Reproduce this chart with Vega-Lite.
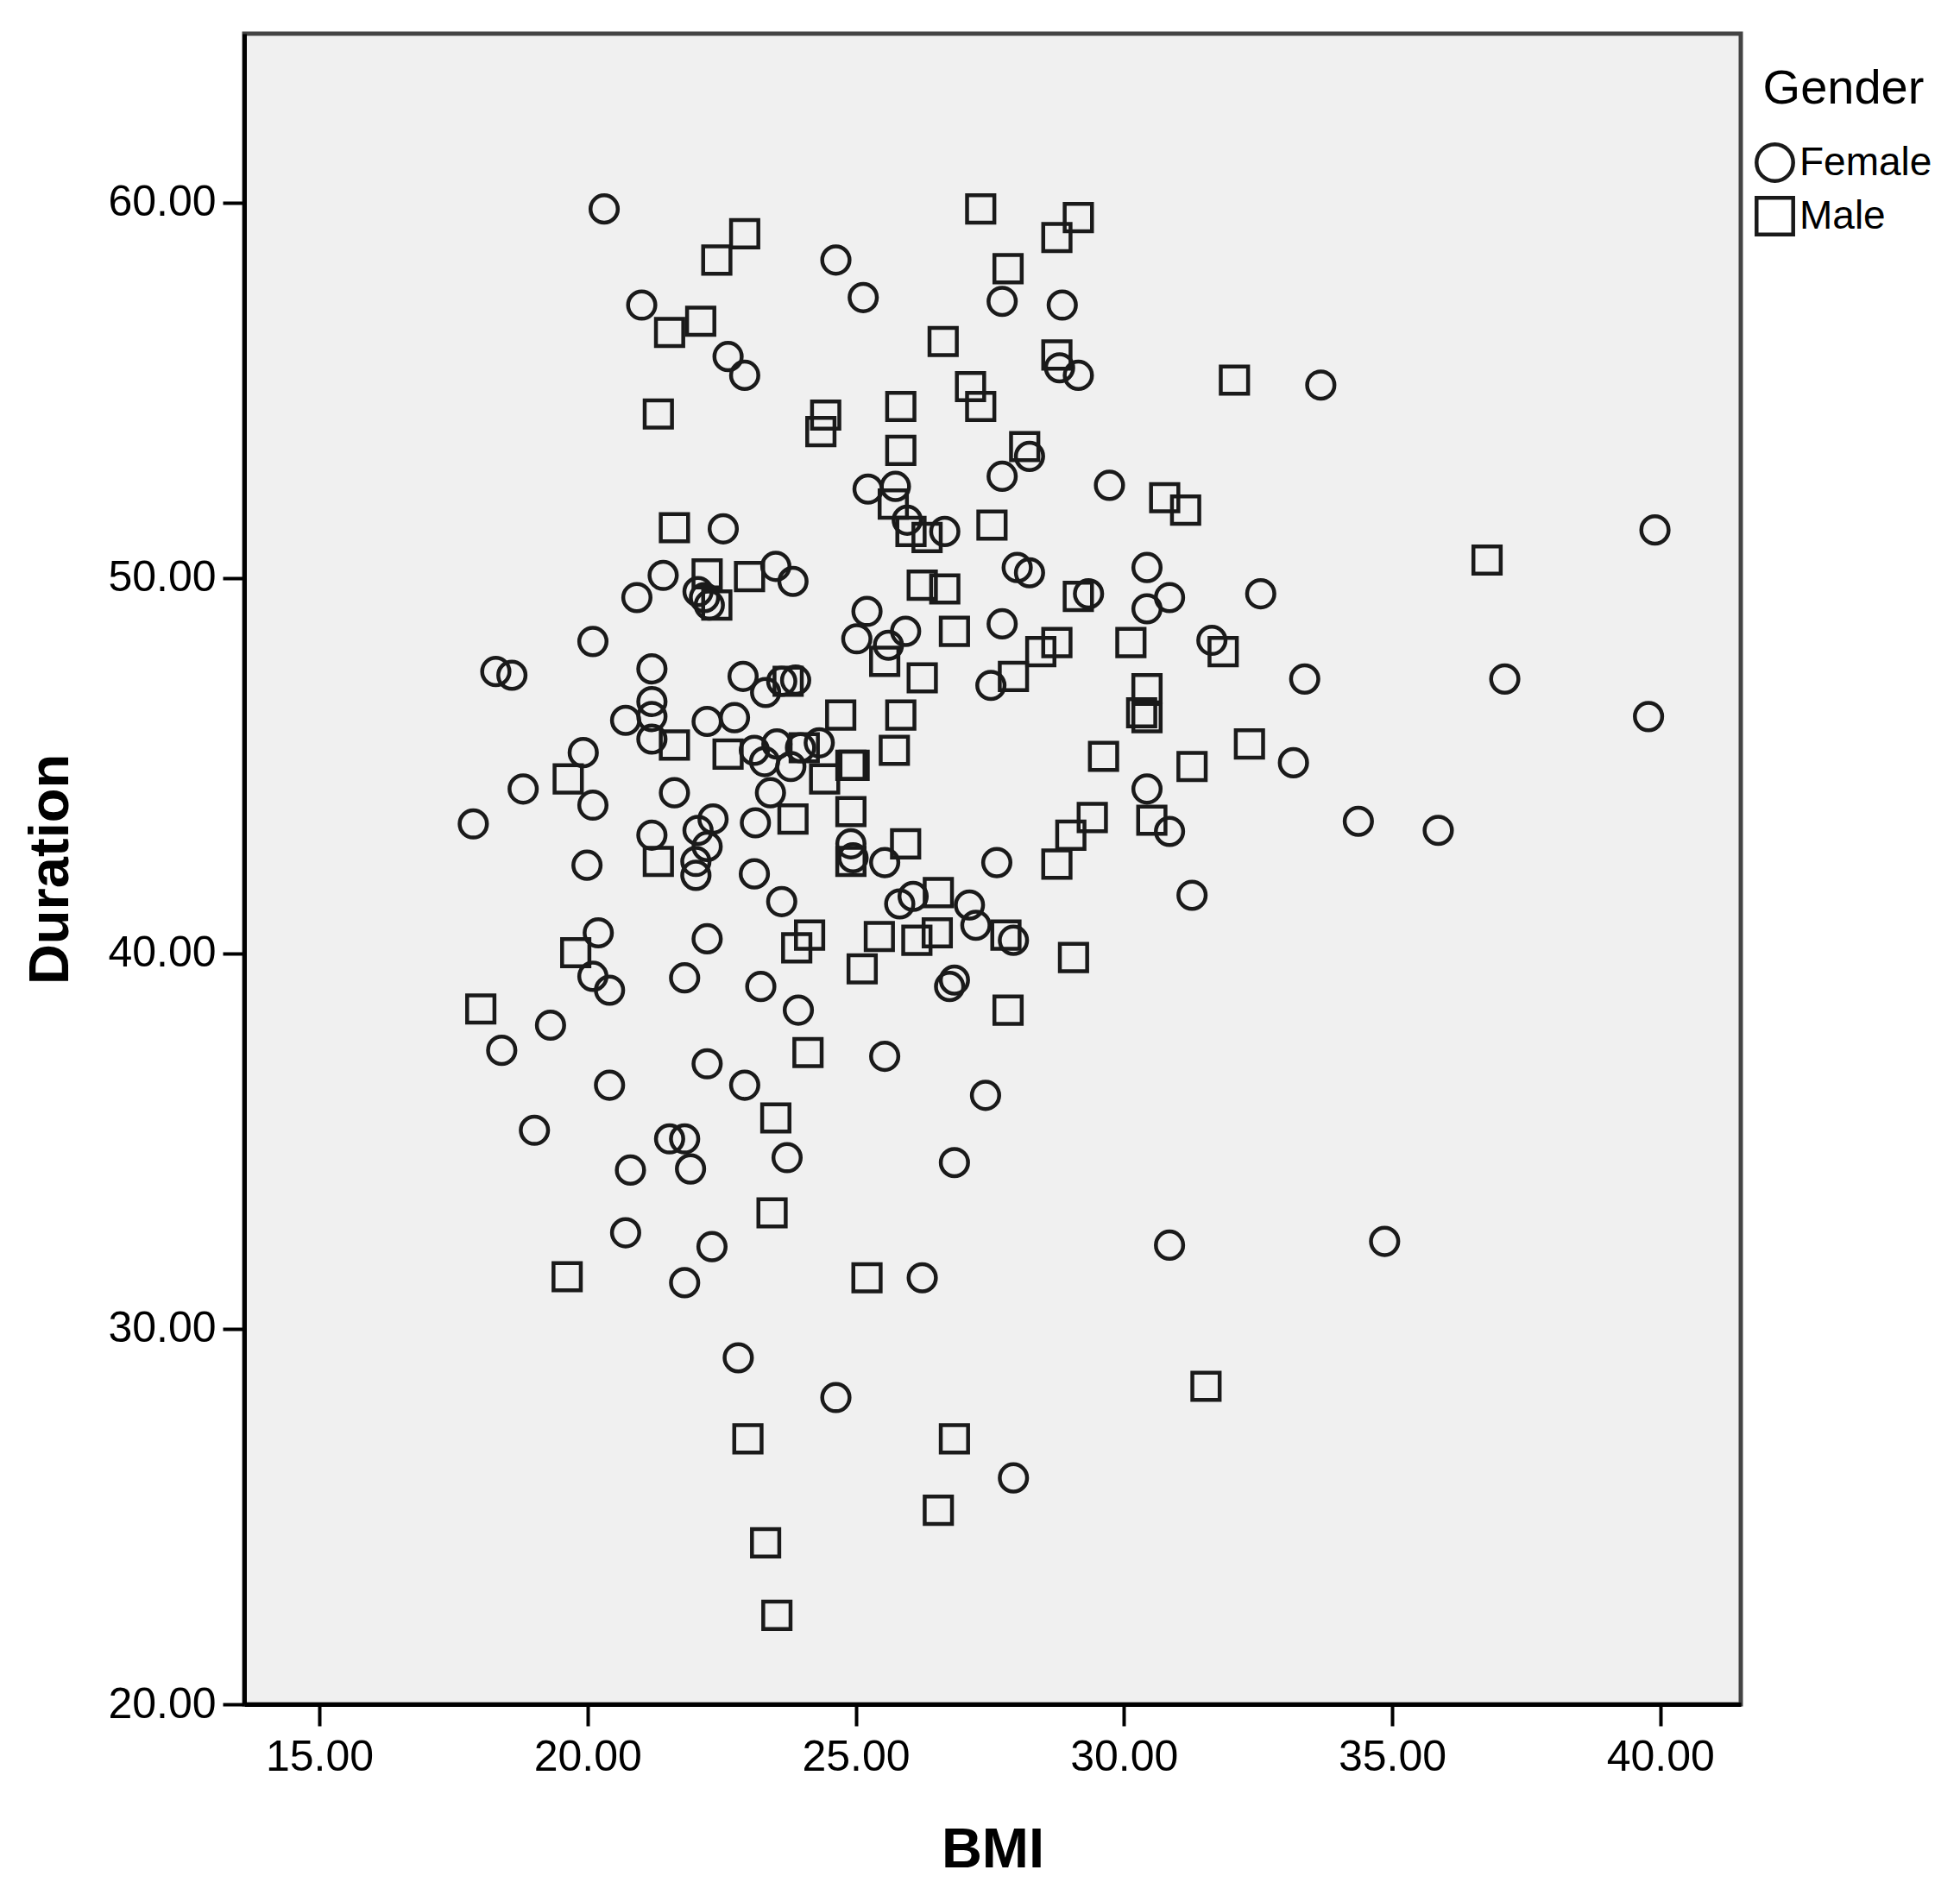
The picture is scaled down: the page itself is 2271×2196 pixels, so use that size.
{
  "$schema": "https://vega.github.io/schema/vega-lite/v6.json",
  "width": 1734,
  "height": 1936,
  "autosize": {"type": "none"},
  "padding": {"left": 283, "top": 39, "right": 254, "bottom": 221},
  "background": "white",
  "config": {
    "font": "Liberation Sans",
    "view": {"fill": "#f0f0f0", "stroke": "#444444", "strokeWidth": 5},
    "axis": {
      "grid": false,
      "domainColor": "black",
      "domainWidth": 5,
      "tickColor": "black",
      "tickWidth": 4,
      "tickSize": 25,
      "labelFontSize": 50,
      "labelColor": "black",
      "labelPadding": 8,
      "titleFontSize": 65,
      "titleFontWeight": "bold",
      "titleColor": "black"
    }
  },
  "data": {
    "values": [
      {"BMI": 20.31, "Duration": 59.83, "Gender": "Female"},
      {"BMI": 24.63, "Duration": 58.47, "Gender": "Female"},
      {"BMI": 25.14, "Duration": 57.47, "Gender": "Female"},
      {"BMI": 21.01, "Duration": 57.27, "Gender": "Female"},
      {"BMI": 27.73, "Duration": 57.37, "Gender": "Female"},
      {"BMI": 28.85, "Duration": 57.27, "Gender": "Female"},
      {"BMI": 22.62, "Duration": 55.9, "Gender": "Female"},
      {"BMI": 28.8, "Duration": 55.6, "Gender": "Female"},
      {"BMI": 22.93, "Duration": 55.4, "Gender": "Female"},
      {"BMI": 29.15, "Duration": 55.4, "Gender": "Female"},
      {"BMI": 33.67, "Duration": 55.14, "Gender": "Female"},
      {"BMI": 28.24, "Duration": 53.24, "Gender": "Female"},
      {"BMI": 27.73, "Duration": 52.71, "Gender": "Female"},
      {"BMI": 29.73, "Duration": 52.47, "Gender": "Female"},
      {"BMI": 25.23, "Duration": 52.37, "Gender": "Female"},
      {"BMI": 25.74, "Duration": 52.44, "Gender": "Female"},
      {"BMI": 25.96, "Duration": 51.54, "Gender": "Female"},
      {"BMI": 26.66, "Duration": 51.24, "Gender": "Female"},
      {"BMI": 22.53, "Duration": 51.31, "Gender": "Female"},
      {"BMI": 39.9, "Duration": 51.28, "Gender": "Female"},
      {"BMI": 23.51, "Duration": 50.31, "Gender": "Female"},
      {"BMI": 21.41, "Duration": 50.07, "Gender": "Female"},
      {"BMI": 23.83, "Duration": 49.91, "Gender": "Female"},
      {"BMI": 28.01, "Duration": 50.28, "Gender": "Female"},
      {"BMI": 28.24, "Duration": 50.14, "Gender": "Female"},
      {"BMI": 30.43, "Duration": 50.28, "Gender": "Female"},
      {"BMI": 22.06, "Duration": 49.64, "Gender": "Female"},
      {"BMI": 22.18, "Duration": 49.48, "Gender": "Female"},
      {"BMI": 22.27, "Duration": 49.28, "Gender": "Female"},
      {"BMI": 20.92, "Duration": 49.48, "Gender": "Female"},
      {"BMI": 29.34, "Duration": 49.58, "Gender": "Female"},
      {"BMI": 30.85, "Duration": 49.48, "Gender": "Female"},
      {"BMI": 32.55, "Duration": 49.58, "Gender": "Female"},
      {"BMI": 30.43, "Duration": 49.18, "Gender": "Female"},
      {"BMI": 25.21, "Duration": 49.11, "Gender": "Female"},
      {"BMI": 25.93, "Duration": 48.58, "Gender": "Female"},
      {"BMI": 27.73, "Duration": 48.78, "Gender": "Female"},
      {"BMI": 20.1, "Duration": 48.31, "Gender": "Female"},
      {"BMI": 25.02, "Duration": 48.38, "Gender": "Female"},
      {"BMI": 25.61, "Duration": 48.21, "Gender": "Female"},
      {"BMI": 31.64, "Duration": 48.34, "Gender": "Female"},
      {"BMI": 18.29, "Duration": 47.51, "Gender": "Female"},
      {"BMI": 18.59, "Duration": 47.41, "Gender": "Female"},
      {"BMI": 21.2, "Duration": 47.58, "Gender": "Female"},
      {"BMI": 22.9, "Duration": 47.38, "Gender": "Female"},
      {"BMI": 27.52, "Duration": 47.14, "Gender": "Female"},
      {"BMI": 23.62, "Duration": 47.25, "Gender": "Female"},
      {"BMI": 23.88, "Duration": 47.28, "Gender": "Female"},
      {"BMI": 33.37, "Duration": 47.31, "Gender": "Female"},
      {"BMI": 37.1, "Duration": 47.31, "Gender": "Female"},
      {"BMI": 23.32, "Duration": 46.95, "Gender": "Female"},
      {"BMI": 21.2, "Duration": 46.71, "Gender": "Female"},
      {"BMI": 21.2, "Duration": 46.31, "Gender": "Female"},
      {"BMI": 20.71, "Duration": 46.21, "Gender": "Female"},
      {"BMI": 22.23, "Duration": 46.18, "Gender": "Female"},
      {"BMI": 22.74, "Duration": 46.28, "Gender": "Female"},
      {"BMI": 39.78, "Duration": 46.31, "Gender": "Female"},
      {"BMI": 21.2, "Duration": 45.71, "Gender": "Female"},
      {"BMI": 23.11, "Duration": 45.41, "Gender": "Female"},
      {"BMI": 23.53, "Duration": 45.58, "Gender": "Female"},
      {"BMI": 24.32, "Duration": 45.61, "Gender": "Female"},
      {"BMI": 23.97, "Duration": 45.48, "Gender": "Female"},
      {"BMI": 19.92, "Duration": 45.35, "Gender": "Female"},
      {"BMI": 23.3, "Duration": 45.11, "Gender": "Female"},
      {"BMI": 23.79, "Duration": 44.98, "Gender": "Female"},
      {"BMI": 33.16, "Duration": 45.08, "Gender": "Female"},
      {"BMI": 18.8, "Duration": 44.38, "Gender": "Female"},
      {"BMI": 30.43, "Duration": 44.38, "Gender": "Female"},
      {"BMI": 21.62, "Duration": 44.28, "Gender": "Female"},
      {"BMI": 23.41, "Duration": 44.28, "Gender": "Female"},
      {"BMI": 20.1, "Duration": 43.95, "Gender": "Female"},
      {"BMI": 17.87, "Duration": 43.45, "Gender": "Female"},
      {"BMI": 34.37, "Duration": 43.52, "Gender": "Female"},
      {"BMI": 22.34, "Duration": 43.58, "Gender": "Female"},
      {"BMI": 23.13, "Duration": 43.48, "Gender": "Female"},
      {"BMI": 22.06, "Duration": 43.28, "Gender": "Female"},
      {"BMI": 35.86, "Duration": 43.28, "Gender": "Female"},
      {"BMI": 30.85, "Duration": 43.25, "Gender": "Female"},
      {"BMI": 21.2, "Duration": 43.15, "Gender": "Female"},
      {"BMI": 22.23, "Duration": 42.85, "Gender": "Female"},
      {"BMI": 24.91, "Duration": 42.92, "Gender": "Female"},
      {"BMI": 24.95, "Duration": 42.55, "Gender": "Female"},
      {"BMI": 22.02, "Duration": 42.45, "Gender": "Female"},
      {"BMI": 19.99, "Duration": 42.35, "Gender": "Female"},
      {"BMI": 25.54, "Duration": 42.42, "Gender": "Female"},
      {"BMI": 27.63, "Duration": 42.42, "Gender": "Female"},
      {"BMI": 22.02, "Duration": 42.08, "Gender": "Female"},
      {"BMI": 23.11, "Duration": 42.12, "Gender": "Female"},
      {"BMI": 23.62, "Duration": 41.38, "Gender": "Female"},
      {"BMI": 25.82, "Duration": 41.32, "Gender": "Female"},
      {"BMI": 26.07, "Duration": 41.52, "Gender": "Female"},
      {"BMI": 31.27, "Duration": 41.55, "Gender": "Female"},
      {"BMI": 27.12, "Duration": 41.29, "Gender": "Female"},
      {"BMI": 27.24, "Duration": 40.75, "Gender": "Female"},
      {"BMI": 20.2, "Duration": 40.55, "Gender": "Female"},
      {"BMI": 22.23, "Duration": 40.39, "Gender": "Female"},
      {"BMI": 27.94, "Duration": 40.35, "Gender": "Female"},
      {"BMI": 20.1, "Duration": 39.39, "Gender": "Female"},
      {"BMI": 21.81, "Duration": 39.35, "Gender": "Female"},
      {"BMI": 26.84, "Duration": 39.29, "Gender": "Female"},
      {"BMI": 26.75, "Duration": 39.12, "Gender": "Female"},
      {"BMI": 20.41, "Duration": 39.02, "Gender": "Female"},
      {"BMI": 23.23, "Duration": 39.12, "Gender": "Female"},
      {"BMI": 23.93, "Duration": 38.49, "Gender": "Female"},
      {"BMI": 19.31, "Duration": 38.09, "Gender": "Female"},
      {"BMI": 18.4, "Duration": 37.42, "Gender": "Female"},
      {"BMI": 25.54, "Duration": 37.26, "Gender": "Female"},
      {"BMI": 22.23, "Duration": 37.06, "Gender": "Female"},
      {"BMI": 20.41, "Duration": 36.49, "Gender": "Female"},
      {"BMI": 22.93, "Duration": 36.49, "Gender": "Female"},
      {"BMI": 27.42, "Duration": 36.22, "Gender": "Female"},
      {"BMI": 19.01, "Duration": 35.29, "Gender": "Female"},
      {"BMI": 21.53, "Duration": 35.06, "Gender": "Female"},
      {"BMI": 21.81, "Duration": 35.06, "Gender": "Female"},
      {"BMI": 23.72, "Duration": 34.56, "Gender": "Female"},
      {"BMI": 26.84, "Duration": 34.43, "Gender": "Female"},
      {"BMI": 20.8, "Duration": 34.23, "Gender": "Female"},
      {"BMI": 21.92, "Duration": 34.26, "Gender": "Female"},
      {"BMI": 20.71, "Duration": 32.56, "Gender": "Female"},
      {"BMI": 34.86, "Duration": 32.33, "Gender": "Female"},
      {"BMI": 30.85, "Duration": 32.23, "Gender": "Female"},
      {"BMI": 22.32, "Duration": 32.19, "Gender": "Female"},
      {"BMI": 26.24, "Duration": 31.36, "Gender": "Female"},
      {"BMI": 21.81, "Duration": 31.23, "Gender": "Female"},
      {"BMI": 22.81, "Duration": 29.23, "Gender": "Female"},
      {"BMI": 24.63, "Duration": 28.17, "Gender": "Female"},
      {"BMI": 27.94, "Duration": 26.03, "Gender": "Female"},
      {"BMI": 27.33, "Duration": 59.83, "Gender": "Male"},
      {"BMI": 29.15, "Duration": 59.6, "Gender": "Male"},
      {"BMI": 22.93, "Duration": 59.17, "Gender": "Male"},
      {"BMI": 28.75, "Duration": 59.07, "Gender": "Male"},
      {"BMI": 22.41, "Duration": 58.47, "Gender": "Male"},
      {"BMI": 27.84, "Duration": 58.24, "Gender": "Male"},
      {"BMI": 22.11, "Duration": 56.84, "Gender": "Male"},
      {"BMI": 21.53, "Duration": 56.54, "Gender": "Male"},
      {"BMI": 26.63, "Duration": 56.3, "Gender": "Male"},
      {"BMI": 28.75, "Duration": 55.94, "Gender": "Male"},
      {"BMI": 32.06, "Duration": 55.27, "Gender": "Male"},
      {"BMI": 27.14, "Duration": 55.1, "Gender": "Male"},
      {"BMI": 27.33, "Duration": 54.57, "Gender": "Male"},
      {"BMI": 25.84, "Duration": 54.57, "Gender": "Male"},
      {"BMI": 21.32, "Duration": 54.37, "Gender": "Male"},
      {"BMI": 24.44, "Duration": 54.34, "Gender": "Male"},
      {"BMI": 24.35, "Duration": 53.9, "Gender": "Male"},
      {"BMI": 25.84, "Duration": 53.4, "Gender": "Male"},
      {"BMI": 28.15, "Duration": 53.5, "Gender": "Male"},
      {"BMI": 25.7, "Duration": 51.97, "Gender": "Male"},
      {"BMI": 30.76, "Duration": 52.14, "Gender": "Male"},
      {"BMI": 31.15, "Duration": 51.81, "Gender": "Male"},
      {"BMI": 26.03, "Duration": 51.24, "Gender": "Male"},
      {"BMI": 26.33, "Duration": 51.08, "Gender": "Male"},
      {"BMI": 27.54, "Duration": 51.41, "Gender": "Male"},
      {"BMI": 21.62, "Duration": 51.34, "Gender": "Male"},
      {"BMI": 36.77, "Duration": 50.48, "Gender": "Male"},
      {"BMI": 22.23, "Duration": 50.11, "Gender": "Male"},
      {"BMI": 23.02, "Duration": 50.04, "Gender": "Male"},
      {"BMI": 26.24, "Duration": 49.81, "Gender": "Male"},
      {"BMI": 26.66, "Duration": 49.71, "Gender": "Male"},
      {"BMI": 22.41, "Duration": 49.28, "Gender": "Male"},
      {"BMI": 29.15, "Duration": 49.51, "Gender": "Male"},
      {"BMI": 26.84, "Duration": 48.58, "Gender": "Male"},
      {"BMI": 28.75, "Duration": 48.28, "Gender": "Male"},
      {"BMI": 30.13, "Duration": 48.28, "Gender": "Male"},
      {"BMI": 28.45, "Duration": 48.04, "Gender": "Male"},
      {"BMI": 31.85, "Duration": 48.04, "Gender": "Male"},
      {"BMI": 25.54, "Duration": 47.78, "Gender": "Male"},
      {"BMI": 26.24, "Duration": 47.34, "Gender": "Male"},
      {"BMI": 27.94, "Duration": 47.38, "Gender": "Male"},
      {"BMI": 23.74, "Duration": 47.25, "Gender": "Male"},
      {"BMI": 30.43, "Duration": 47.05, "Gender": "Male"},
      {"BMI": 25.84, "Duration": 46.35, "Gender": "Male"},
      {"BMI": 24.72, "Duration": 46.35, "Gender": "Male"},
      {"BMI": 30.33, "Duration": 46.41, "Gender": "Male"},
      {"BMI": 30.43, "Duration": 46.28, "Gender": "Male"},
      {"BMI": 21.62, "Duration": 45.55, "Gender": "Male"},
      {"BMI": 22.62, "Duration": 45.31, "Gender": "Male"},
      {"BMI": 25.72, "Duration": 45.41, "Gender": "Male"},
      {"BMI": 24.04, "Duration": 45.48, "Gender": "Male"},
      {"BMI": 32.34, "Duration": 45.58, "Gender": "Male"},
      {"BMI": 29.62, "Duration": 45.25, "Gender": "Male"},
      {"BMI": 24.91, "Duration": 45.01, "Gender": "Male"},
      {"BMI": 24.97, "Duration": 45.01, "Gender": "Male"},
      {"BMI": 31.27, "Duration": 44.98, "Gender": "Male"},
      {"BMI": 19.64, "Duration": 44.65, "Gender": "Male"},
      {"BMI": 24.42, "Duration": 44.65, "Gender": "Male"},
      {"BMI": 24.91, "Duration": 43.78, "Gender": "Male"},
      {"BMI": 29.41, "Duration": 43.62, "Gender": "Male"},
      {"BMI": 23.83, "Duration": 43.58, "Gender": "Male"},
      {"BMI": 30.52, "Duration": 43.55, "Gender": "Male"},
      {"BMI": 29.01, "Duration": 43.15, "Gender": "Male"},
      {"BMI": 25.93, "Duration": 42.92, "Gender": "Male"},
      {"BMI": 24.91, "Duration": 42.45, "Gender": "Male"},
      {"BMI": 21.32, "Duration": 42.45, "Gender": "Male"},
      {"BMI": 28.75, "Duration": 42.38, "Gender": "Male"},
      {"BMI": 26.54, "Duration": 41.62, "Gender": "Male"},
      {"BMI": 24.14, "Duration": 40.49, "Gender": "Male"},
      {"BMI": 25.44, "Duration": 40.45, "Gender": "Male"},
      {"BMI": 26.52, "Duration": 40.55, "Gender": "Male"},
      {"BMI": 26.14, "Duration": 40.35, "Gender": "Male"},
      {"BMI": 27.8, "Duration": 40.49, "Gender": "Male"},
      {"BMI": 23.9, "Duration": 40.15, "Gender": "Male"},
      {"BMI": 19.78, "Duration": 40.02, "Gender": "Male"},
      {"BMI": 29.06, "Duration": 39.89, "Gender": "Male"},
      {"BMI": 25.12, "Duration": 39.59, "Gender": "Male"},
      {"BMI": 18.01, "Duration": 38.52, "Gender": "Male"},
      {"BMI": 27.84, "Duration": 38.49, "Gender": "Male"},
      {"BMI": 24.11, "Duration": 37.36, "Gender": "Male"},
      {"BMI": 23.51, "Duration": 35.62, "Gender": "Male"},
      {"BMI": 23.44, "Duration": 33.09, "Gender": "Male"},
      {"BMI": 19.62, "Duration": 31.39, "Gender": "Male"},
      {"BMI": 25.21, "Duration": 31.36, "Gender": "Male"},
      {"BMI": 31.53, "Duration": 28.47, "Gender": "Male"},
      {"BMI": 22.99, "Duration": 27.07, "Gender": "Male"},
      {"BMI": 26.84, "Duration": 27.07, "Gender": "Male"},
      {"BMI": 26.54, "Duration": 25.17, "Gender": "Male"},
      {"BMI": 23.32, "Duration": 24.3, "Gender": "Male"},
      {"BMI": 23.53, "Duration": 22.37, "Gender": "Male"}
    ]
  },
  "mark": {"type": "point", "filled": false, "color": "#1a1a1a", "size": 1000, "strokeWidth": 4.5, "opacity": 1},
  "encoding": {
    "x": {
      "field": "BMI",
      "type": "quantitative",
      "scale": {"domain": [13.6, 41.5], "nice": false, "zero": false},
      "axis": {
        "values": [15, 20, 25, 30, 35, 40],
        "format": ".2f",
        "labelPadding": 11,
        "title": "BMI",
        "titleX": 867,
        "titleY": 188,
        "titleBaseline": "alphabetic"
      }
    },
    "y": {
      "field": "Duration",
      "type": "quantitative",
      "scale": {"domain": [20, 64.5], "nice": false, "zero": false},
      "axis": {
        "values": [20, 30, 40, 50, 60],
        "format": ".2f",
        "title": "Duration",
        "titleX": -205,
        "titleY": 968,
        "titleBaseline": "alphabetic"
      }
    },
    "shape": {
      "field": "Gender",
      "type": "nominal",
      "scale": {"domain": ["Female", "Male"], "range": ["circle", "square"]},
      "legend": {
        "orient": "none",
        "legendX": 1750,
        "legendY": 37,
        "padding": 0,
        "title": "Gender",
        "titleFontSize": 56,
        "titleFontWeight": "normal",
        "titleColor": "black",
        "titleLimit": 600,
        "titleAnchor": "middle",
        "titlePadding": 33,
        "labelFontSize": 46,
        "labelColor": "black",
        "labelLimit": 600,
        "labelOffset": 5,
        "symbolSize": 1800,
        "symbolStrokeWidth": 4.5,
        "symbolStrokeColor": "#1a1a1a",
        "symbolFillColor": "transparent",
        "rowPadding": 1
      }
    }
  }
}
